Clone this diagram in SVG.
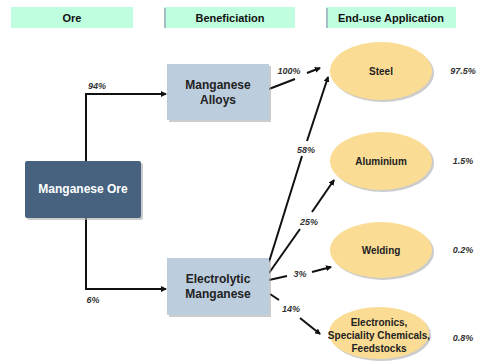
<svg xmlns="http://www.w3.org/2000/svg" width="478" height="362" viewBox="0 0 478 362">
<style>
text{font-family:"Liberation Sans",Arial,sans-serif;font-weight:bold;text-anchor:middle}
.hdr{fill:#bfffe0}
.hl{font-size:11px;fill:#111}
.box{fill:#bccddd}
.bt{font-size:12px;fill:#222}
.ell{fill:#fadc94}
.et{font-size:10px;fill:#222}
.pc{font-size:9px;font-style:italic;fill:#333}
.sh{fill:#aaa;opacity:0.6}
.ln{stroke:#111;stroke-width:2;fill:none}
.ar{stroke:#111;stroke-width:2;fill:none;marker-end:url(#ah)}
</style>
<defs>
<marker id="ah" markerWidth="6" markerHeight="6" refX="5" refY="3" orient="auto" markerUnits="userSpaceOnUse"><path d="M0,0 L6,3 L0,6 z" fill="#111"/></marker>
</defs>
<rect width="478" height="362" fill="#fff"/>
<g id="hdr-ore"><rect class="hdr" x="11" y="7" width="122" height="21"/><text class="hl" x="72" y="22">Ore</text></g>
<g id="hdr-ben"><rect class="hdr" x="164" y="7" width="131" height="21"/><line x1="165" y1="8" x2="165" y2="28" stroke="#9ab" stroke-width="1.5"/><text class="hl" x="230" y="22">Beneficiation</text></g>
<g id="hdr-end"><rect class="hdr" x="326" y="7" width="130" height="21"/><line x1="327" y1="8" x2="327" y2="28" stroke="#9ab" stroke-width="1.5"/><text class="hl" x="391" y="22">End-use Application</text></g>

<g id="connectors">
<polyline class="ar" points="86,161 86,94 166,94"/>
<polyline class="ar" points="86,218 86,289 166,289"/>
<line class="ln" x1="269" y1="89" x2="295" y2="79"/>
<line class="ar" x1="307" y1="73" x2="320" y2="68"/>
<line class="ln" x1="269" y1="262" x2="302" y2="156"/>
<line class="ar" x1="307" y1="141" x2="328" y2="77"/>
<line class="ln" x1="269" y1="273" x2="300" y2="229"/>
<line class="ar" x1="312" y1="212" x2="334" y2="180"/>
<line class="ln" x1="269" y1="280" x2="287" y2="276"/>
<line class="ar" x1="312" y1="272" x2="331" y2="267"/>
<line class="ln" x1="270" y1="294" x2="279" y2="300"/>
<line class="ar" x1="300" y1="318" x2="320" y2="334"/>
</g>

<g id="labels">
<text class="pc" x="97" y="89">94%</text>
<text class="pc" x="93" y="303">6%</text>
<text class="pc" x="289" y="74">100%</text>
<text class="pc" x="306" y="153">58%</text>
<text class="pc" x="309" y="225">25%</text>
<text class="pc" x="300" y="277">3%</text>
<text class="pc" x="291" y="312">14%</text>
<text class="pc" x="463" y="74">97.5%</text>
<text class="pc" x="463" y="164">1.5%</text>
<text class="pc" x="463" y="253">0.2%</text>
<text class="pc" x="463" y="341">0.8%</text>
</g>

<g id="manganese-ore"><rect class="sh" x="27" y="163" width="116" height="57" rx="2"/><rect x="25" y="161" width="116" height="57" rx="2" fill="#46627f"/><text x="83" y="193" style="font-size:12px;fill:#fff">Manganese Ore</text></g>
<g id="manganese-alloys"><rect class="sh" x="169" y="66" width="102" height="56"/><rect class="box" x="167" y="64" width="102" height="56"/><text class="bt" x="218" y="89">Manganese</text><text class="bt" x="218" y="104">Alloys</text></g>
<g id="electrolytic-manganese"><rect class="sh" x="169" y="260" width="102" height="57"/><rect class="box" x="167" y="258" width="102" height="57"/><text class="bt" x="218" y="283">Electrolytic</text><text class="bt" x="218" y="298">Manganese</text></g>

<g id="steel"><ellipse class="sh" cx="383" cy="73" rx="51" ry="29"/><ellipse class="ell" cx="381" cy="71" rx="51" ry="29"/><text class="et" x="381" y="75">Steel</text></g>
<g id="aluminium"><ellipse class="sh" cx="383" cy="163" rx="51" ry="29"/><ellipse class="ell" cx="381" cy="161" rx="51" ry="29"/><text class="et" x="381" y="165">Aluminium</text></g>
<g id="welding"><ellipse class="sh" cx="383" cy="252" rx="51" ry="28"/><ellipse class="ell" cx="381" cy="250" rx="51" ry="28"/><text class="et" x="381" y="254">Welding</text></g>
<g id="electronics"><ellipse class="sh" cx="381" cy="335" rx="50" ry="26"/><ellipse class="ell" cx="379" cy="333" rx="50" ry="26"/><text class="et" x="379" y="326">Electronics,</text><text class="et" x="379" y="339">Speciality Chemicals,</text><text class="et" x="379" y="352">Feedstocks</text></g>
</svg>
